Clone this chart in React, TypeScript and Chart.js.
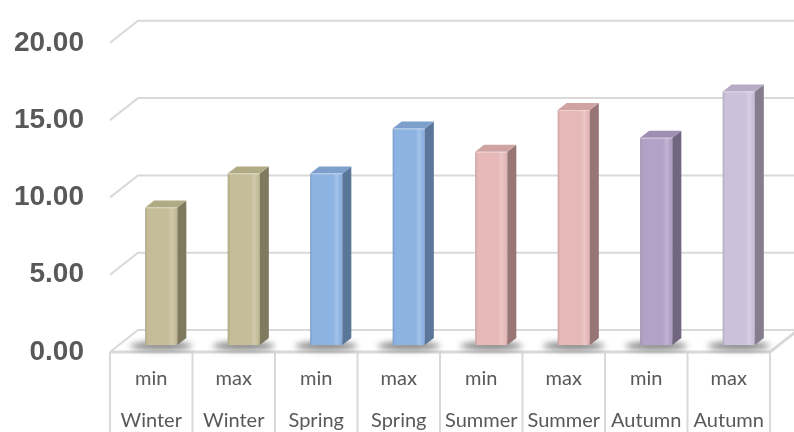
import React, { useEffect, useRef } from 'react';
import { Chart, registerables } from 'chart.js';

Chart.register(...registerables);

const seasons = ['Winter', 'Winter', 'Spring', 'Spring', 'Summer', 'Summer', 'Autumn', 'Autumn'];
const kinds = ['min', 'max', 'min', 'max', 'min', 'max', 'min', 'max'];
const values = [8.9, 11.1, 11.1, 14.0, 12.5, 15.2, 13.4, 16.4];
const yTicks = [0, 5, 10, 15, 20];

const frontColors = ['#c4bd97', '#c4bd97', '#8db3e2', '#8db3e2', '#e6b9b8', '#e6b9b8', '#b3a2c7', '#ccc1da'];
const sideColors = ['#7f7a5f', '#7f7a5f', '#5a7699', '#5a7699', '#977675', '#977675', '#716582', '#857d8e'];
const topColors = ['#b0aa85', '#b0aa85', '#7d9fcb', '#7d9fcb', '#cfa3a2', '#cfa3a2', '#9e8eb2', '#b7acc5'];

const WALL_DX = 28;
const WALL_DY = -22;
const BAR_DX = 10;
const BAR_DY = -7;
const SIDE_DX = 9;
const SIDE_DY = -7;
const GRID = '#d9d9d9';

const threeD = {
  id: 'threeD',
  beforeDatasetsDraw(chart: any) {
    const { ctx, chartArea: a, scales } = chart;
    const y = scales.y;
    const x = scales.x;
    ctx.save();
    ctx.strokeStyle = GRID;
    ctx.lineWidth = 2;
    yTicks.forEach((v) => {
      const yf = y.getPixelForValue(v);
      const yb = yf + WALL_DY;
      ctx.beginPath();
      ctx.moveTo(a.left, yf);
      ctx.lineTo(a.left + WALL_DX, yb);
      ctx.lineTo(a.right + WALL_DX + 10, yb);
      ctx.stroke();
    });
    const y0 = y.getPixelForValue(0);
    ctx.lineWidth = 3;
    ctx.beginPath();
    ctx.moveTo(a.left, y0);
    ctx.lineTo(a.right, y0);
    ctx.lineTo(a.right + WALL_DX, y0 + WALL_DY);
    ctx.stroke();
    ctx.lineWidth = 2;
    const n = x.ticks.length;
    for (let i = 0; i <= n; i++) {
      const px = a.left + ((a.right - a.left) * i) / n;
      ctx.beginPath();
      ctx.moveTo(px, y0);
      ctx.lineTo(px, chart.height);
      ctx.stroke();
    }
    // shadows on the floor
    const meta = chart.getDatasetMeta(0);
    ctx.filter = 'blur(3px)';
    meta.data.forEach((el: any) => {
      const cx = el.x + BAR_DX;
      const by = el.base + BAR_DY + 1;
      ctx.fillStyle = 'rgba(40,40,40,0.6)';
      ctx.beginPath();
      ctx.ellipse(cx, by, el.width / 2 + 15, 4, 0, 0, Math.PI * 2);
      ctx.fill();
    });
    ctx.filter = 'none';
    ctx.restore();
    ctx.save();
    ctx.translate(BAR_DX, BAR_DY);
  },
  afterDatasetsDraw(chart: any) {
    const { ctx } = chart;
    ctx.restore();
    ctx.save();
    const meta = chart.getDatasetMeta(0);
    meta.data.forEach((el: any, i: number) => {
      const w = el.width;
      const l = el.x - w / 2 + BAR_DX;
      const r = l + w;
      const t = el.y + BAR_DY;
      const b = el.base + BAR_DY;
      const g = ctx.createLinearGradient(l, 0, r, 0);
      g.addColorStop(0, 'rgba(0,0,0,0.12)');
      g.addColorStop(0.08, 'rgba(0,0,0,0)');
      g.addColorStop(0.7, 'rgba(255,255,255,0)');
      g.addColorStop(0.83, 'rgba(255,255,255,0.2)');
      g.addColorStop(0.93, 'rgba(255,255,255,0)');
      g.addColorStop(1, 'rgba(0,0,0,0.12)');
      ctx.fillStyle = g;
      ctx.fillRect(l, t, w, b - t);
      ctx.fillStyle = sideColors[i];
      ctx.beginPath();
      ctx.moveTo(r, t);
      ctx.lineTo(r + SIDE_DX, t + SIDE_DY);
      ctx.lineTo(r + SIDE_DX, b + SIDE_DY);
      ctx.lineTo(r, b);
      ctx.closePath();
      ctx.fill();
      ctx.fillStyle = topColors[i];
      ctx.beginPath();
      ctx.moveTo(l, t);
      ctx.lineTo(r, t);
      ctx.lineTo(r + SIDE_DX, t + SIDE_DY);
      ctx.lineTo(l + SIDE_DX, t + SIDE_DY);
      ctx.closePath();
      ctx.fill();
      ctx.strokeStyle = 'rgba(255,255,255,0.35)';
      ctx.lineWidth = 1;
      ctx.beginPath();
      ctx.moveTo(l, t + 0.5);
      ctx.lineTo(r, t + 0.5);
      ctx.stroke();
    });
    ctx.restore();
  },
};

export default function App() {
  const ref = useRef<HTMLCanvasElement | null>(null);
  useEffect(() => {
    if (!ref.current) return;
    const chart = new Chart(ref.current, {
      type: 'bar',
      data: {
        labels: kinds.map((k, i) => [k, seasons[i]]),
        datasets: [
          {
            data: values,
            backgroundColor: frontColors,
            borderWidth: 0,
            barPercentage: 0.39,
            categoryPercentage: 1,
          },
        ],
      },
      options: {
        responsive: false,
        animation: false,
        devicePixelRatio: 1,
        layout: { padding: { top: 38, right: 24, left: 0, bottom: 0 } },
        plugins: { legend: { display: false }, tooltip: { enabled: false } },
        scales: {
          x: {
            grid: { display: false, drawTicks: false },
            border: { display: false },
            ticks: {
              color: '#595959',
              font: { family: 'Lato', size: 20, lineHeight: 2.1 },
              padding: 6,
              maxRotation: 0,
              autoSkip: false,
            },
            afterFit(s: any) {
              s.height = 80;
            },
          },
          y: {
            min: 0,
            max: 20,
            ticks: {
              stepSize: 5,
              callback: (v: any) => Number(v).toFixed(2),
              color: '#595959',
              font: { family: 'Liberation Sans', size: 28, weight: 'bold' },
              padding: 26,
            },
            grid: { display: false, drawTicks: false },
            border: { display: false },
            afterFit(s: any) {
              s.width = 110;
            },
          },
        },
      },
      plugins: [threeD],
    } as any);
    return () => chart.destroy();
  }, []);
  return (
    <div style={{ position: 'fixed', left: 0, top: 0, width: 794, height: 432, background: '#fff' }}>
      <canvas ref={ref} width={794} height={432} style={{ display: 'block' }} />
    </div>
  );
}
